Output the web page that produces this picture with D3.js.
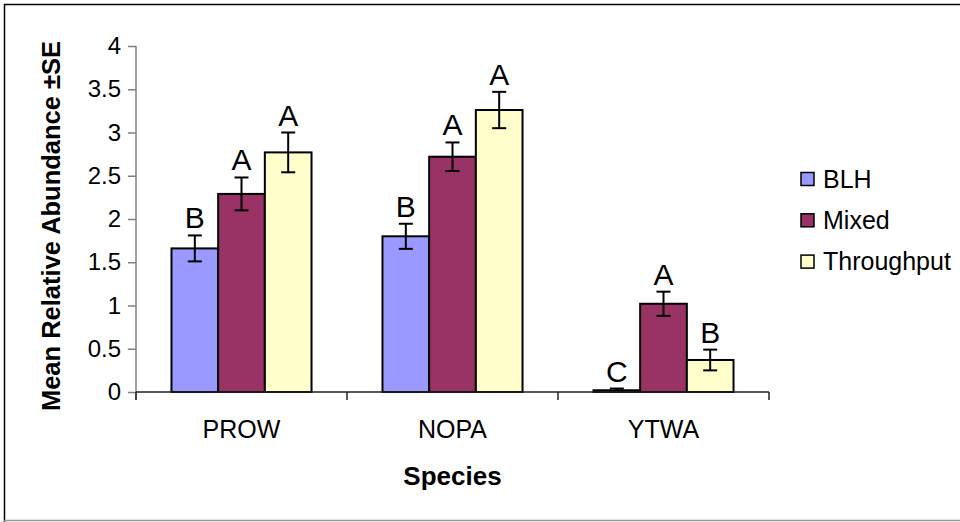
<!DOCTYPE html>
<html>
<head>
<meta charset="utf-8">
<script src="https://cdn.jsdelivr.net/npm/d3@7"></script>
<style>
  html, body { margin: 0; padding: 0; background: #fff; }
  svg { display: block; font-family: Arial, "Liberation Sans", sans-serif; }
</style>
</head>
<body>
<svg id="chart" width="960" height="522"></svg>
<script>
// Mean relative abundance of three species across three habitat types
const species = ["PROW", "NOPA", "YTWA"];
const habitats = ["BLH", "Mixed", "Throughput"];
const colors = ["#9999FF", "#993366", "#FFFFCC"];
const blhMean = [1.66, 1.80, 0.02];
const mixedMean = [2.29, 2.72, 1.02];
const throughputMean = [2.77, 3.26, 0.37];
const blhSE = [0.15, 0.145, 0.02];
const mixedSE = [0.19, 0.165, 0.14];
const throughputSE = [0.23, 0.21, 0.12];
const blhLetters = ["B", "B", "C"];
const mixedLetters = ["A", "A", "A"];
const throughputLetters = ["A", "A", "B"];
const yTicks = [0, 0.5, 1, 1.5, 2, 2.5, 3, 3.5, 4];
const yTickLabels = ["0", "0.5", "1", "1.5", "2", "2.5", "3", "3.5", "4"];

const means = [blhMean, mixedMean, throughputMean];
const ses = [blhSE, mixedSE, throughputSE];
const letters = [blhLetters, mixedLetters, throughputLetters];

const rows = [];
species.forEach((sp, i) => {
  habitats.forEach((h, j) => {
    rows.push({ sp, h, j, v: means[j][i], se: ses[j][i], letter: letters[j][i] });
  });
});

const svg = d3.select("#chart");

// outer frame
svg.append("path").attr("d", "M4.5,1000V4.5H1000").attr("fill", "none").attr("stroke", "#000").attr("stroke-width", 1.5);
svg.append("line").attr("x1", 4).attr("x2", 960).attr("y1", 520.5).attr("y2", 520.5)
  .attr("stroke", "#999").attr("stroke-width", 1.5);

const plotLeft = 136, plotRight = 769, plotTop = 46, plotBottom = 392;

const x0 = d3.scaleBand().domain(species).range([plotLeft, plotRight]).paddingInner(0).paddingOuter(0);
const x1 = d3.scaleBand().domain(habitats).range([0, x0.bandwidth()]).paddingInner(0).paddingOuter(0.76);
const y = d3.scaleLinear().domain([0, 4]).range([plotBottom, plotTop]);

// y axis
const yAxis = d3.axisLeft(y).tickValues(yTicks).tickFormat((d, i) => yTickLabels[i]).tickSize(8).tickPadding(7);
const gy = svg.append("g").attr("transform", `translate(${plotLeft},0)`).call(yAxis);
gy.select(".domain").attr("stroke", "#808080").attr("stroke-width", 1.5).attr("d", `M0,${plotTop}V${plotBottom + 8}`);
gy.selectAll(".tick line").attr("stroke", "#808080").attr("stroke-width", 1.5);
gy.selectAll(".tick text").attr("font-size", 24).attr("fill", "#000").attr("font-family", "Arial, 'Liberation Sans', sans-serif");

// bars
const groups = svg.append("g").selectAll("g").data(rows).join("g")
  .attr("transform", d => `translate(${x0(d.sp)},0)`);

groups.append("rect")
  .attr("x", d => x1(d.h))
  .attr("y", d => y(d.v))
  .attr("width", x1.bandwidth())
  .attr("height", d => y(0) - y(d.v))
  .attr("fill", d => colors[d.j])
  .attr("stroke", "#000")
  .attr("stroke-width", 2);

// error bars and significance letters
const capHalf = 7;
groups.each(function (d) {
  const g = d3.select(this);
  const cx = x1(d.h) + x1.bandwidth() / 2;
  const yHi = y(d.v + d.se), yLo = y(Math.max(0, d.v - d.se));
  g.append("line").attr("x1", cx).attr("x2", cx).attr("y1", yHi).attr("y2", yLo)
    .attr("stroke", "#000").attr("stroke-width", 2);
  [yHi, yLo].forEach(yy => g.append("line").attr("x1", cx - capHalf).attr("x2", cx + capHalf)
    .attr("y1", yy).attr("y2", yy).attr("stroke", "#000").attr("stroke-width", 2));
  g.append("text").attr("x", cx).attr("y", yHi - 7).attr("text-anchor", "middle")
    .attr("font-size", 30).attr("fill", "#000").text(d.letter);
});

// x axis
const xAxis = svg.append("g");
xAxis.append("line").attr("x1", plotLeft).attr("x2", plotRight).attr("y1", plotBottom).attr("y2", plotBottom)
  .attr("stroke", "#222").attr("stroke-width", 1.5);
const bounds = species.map(s => x0(s)).concat([plotRight]);
xAxis.selectAll("line.tk").data(bounds).join("line").attr("class", "tk")
  .attr("x1", d => d).attr("x2", d => d).attr("y1", plotBottom).attr("y2", plotBottom + 8)
  .attr("stroke", "#222").attr("stroke-width", 1.5);
xAxis.selectAll("text").data(species).join("text")
  .attr("x", d => x0(d) + x0.bandwidth() / 2).attr("y", 438)
  .attr("text-anchor", "middle").attr("font-size", 25).attr("fill", "#000").text(d => d);

// axis titles
svg.append("text").attr("x", (plotLeft + plotRight) / 2).attr("y", 485).attr("text-anchor", "middle")
  .attr("font-size", 26).attr("font-weight", "bold").text("Species");
svg.append("text").attr("transform", `translate(60,226) rotate(-90)`).attr("text-anchor", "middle")
  .attr("font-size", 25.5).attr("font-weight", "bold").text("Mean Relative Abundance ±SE");

// legend
const legend = svg.append("g").selectAll("g").data(habitats).join("g")
  .attr("transform", (d, i) => `translate(801,${179 + i * 41.3})`);
legend.append("rect").attr("x", 0).attr("y", -6.5).attr("width", 13).attr("height", 13)
  .attr("fill", (d, i) => colors[i]).attr("stroke", "#000").attr("stroke-width", 1.5);
legend.append("text").attr("x", 22).attr("y", 8.5).attr("font-size", 25).attr("fill", "#000").text(d => d);
</script>
</body>
</html>
